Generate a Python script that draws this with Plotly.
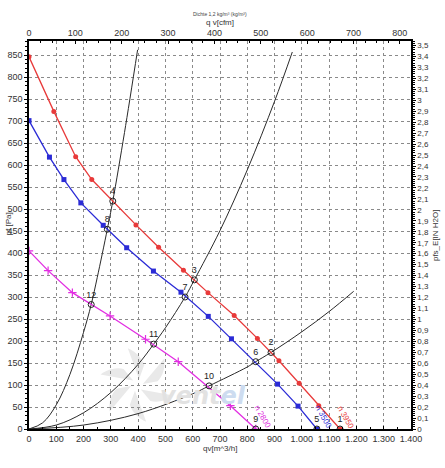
import math
import plotly.graph_objects as go

# ---------------- data ----------------
red_q = [0, 91, 171, 230, 392, 475, 566, 656, 752, 837, 916, 990, 1062, 1140]
red_p = [846, 722, 619, 567, 464, 413, 361, 310, 258, 206, 155, 104, 53, 0]

blue_q = [0, 75, 128, 190, 272, 358, 456, 557, 657, 742, 911, 986, 1055]
blue_p = [701, 618, 567, 514, 463, 412, 359, 311, 256, 205, 102, 52, 0]

mag_q = [0, 70, 159, 297, 427, 547, 738, 831]
mag_p = [405, 360, 310, 257, 204, 153, 53, 0]

sys1_q = [0, 50, 100, 150, 200, 228, 250, 287, 307, 350, 398]
sys1_p = [0, 14, 55, 124, 220, 283, 344, 454, 518, 674, 862]

sys2_q = [0, 100, 200, 300, 400, 457, 500, 572, 606, 700, 800, 900, 965]
sys2_p = [0, 9, 37, 83, 147, 193, 230, 300, 339, 451, 589, 745, 857]

sys3_q = [0, 200, 400, 600, 660, 800, 831, 887, 1000, 1100, 1190]
sys3_p = [0, 9, 35, 80, 98, 141, 153, 174, 221, 267, 313]

op_labels = ["1", "2", "3", "4", "5", "6", "7", "8", "9", "10", "11", "12"]
op_q = [1140, 887, 606, 307, 1055, 831, 572, 287, 831, 660, 457, 228]
op_p = [0, 174, 339, 518, 0, 153, 300, 454, 0, 98, 193, 283]

speed_labels = ["n 3950", "n 3500", "n 2800"]
speed_q = [1160, 1078, 855]
speed_p = [26, 28, 28]
speed_colors = ["#e83a3a", "#3030d8", "#e030e0"]

P_MAX = 882          # Pa, top of plot
PA_PER_INH2O = 249.089
M3H_PER_CFM = 1.69901
Q_MAX = 1400

RED = "#e83a3a"
BLUE = "#2b2bd6"
MAG = "#e22ee2"
SYS = "#2a2a2a"
FONT = "Liberation Sans"

# plot-area geometry (pixels) for the decorative watermark
L, R, T, B = 29, 411, 41, 429


def px_to_paper(px, py):
    return (px - L) / (R - L), (B - py) / (B - T)


fig = go.Figure()

for q, p in [(sys1_q, sys1_p), (sys2_q, sys2_p), (sys3_q, sys3_p)]:
    fig.add_trace(go.Scatter(x=q, y=p, mode="lines", line=dict(color=SYS, width=1, shape="spline"),
                             hoverinfo="skip", showlegend=False))

fig.add_trace(go.Scatter(x=red_q, y=red_p, mode="lines+markers",
                         line=dict(color=RED, width=1.3),
                         marker=dict(symbol="circle", size=5, color=RED), showlegend=False))
fig.add_trace(go.Scatter(x=blue_q, y=blue_p, mode="lines+markers",
                         line=dict(color=BLUE, width=1.3),
                         marker=dict(symbol="square", size=5, color=BLUE), showlegend=False))
fig.add_trace(go.Scatter(x=mag_q, y=mag_p, mode="lines+markers",
                         line=dict(color=MAG, width=1.3),
                         marker=dict(symbol="cross-thin", size=6, line=dict(color=MAG, width=1.2)),
                         showlegend=False))

fig.add_trace(go.Scatter(x=op_q, y=op_p, mode="markers+text", text=op_labels,
                         textposition="top center",
                         textfont=dict(family=FONT, size=9, color="#222"),
                         marker=dict(symbol="circle-open", size=6, color="#222", line=dict(width=1)),
                         showlegend=False))

# dummy trace on secondary axes so they render
fig.add_trace(go.Scatter(x=[0], y=[0], xaxis="x2", yaxis="y2", mode="markers",
                         marker=dict(opacity=0), hoverinfo="skip", showlegend=False))

# watermark fan icon (decoration, paper coordinates)
shapes = []
cx, cy, rad = 137, 385, 38
for k in range(6):
    a0 = math.radians(k * 60 + 10)
    x0p, y0p = px_to_paper(cx + 6 * math.cos(a0), cy - 6 * math.sin(a0))
    path = "M %.4f,%.4f" % (x0p, y0p)
    for j in range(9):
        a = a0 + math.radians(34) * j / 8
        rr = rad * (0.55 + 0.45 * j / 8)
        xp, yp = px_to_paper(cx + rr * math.cos(a), cy - rr * math.sin(a))
        path += " L %.4f,%.4f" % (xp, yp)
    path += " Z"
    shapes.append(dict(type="path", xref="paper", yref="paper", path=path,
                       fillcolor="#e9e9e9", line=dict(width=0), layer="below"))

annotations = []
for t, q, p, c in zip(speed_labels, speed_q, speed_p, speed_colors):
    annotations.append(dict(x=q, y=p, xref="x", yref="y", text=t, showarrow=False, textangle=60,
                            font=dict(family=FONT, size=8, color=c)))

# watermark text
wx, wy = px_to_paper(203, 381)
annotations.append(dict(x=wx, y=wy, xref="paper", yref="paper", showarrow=False,
                        xanchor="center", yanchor="top", borderpad=0,
                        text="<b><i>vent<span style='color:#cddcf0'>el</span></i></b>",
                        font=dict(family="DejaVu Sans", size=24, color="#e2e2e2")))

annotations += [
    dict(x=0.5, y=-0.05, xref="paper", yref="paper", text="qv[m^3/h]", showarrow=False,
         font=dict(family=FONT, size=8, color="#333"), yanchor="middle"),
    dict(x=0.5, y=1.047, xref="paper", yref="paper", text="q v[cfm]", showarrow=False,
         font=dict(family=FONT, size=8, color="#333"), yanchor="middle"),
    dict(x=0.5, y=1.07, xref="paper", yref="paper", text="Dichte 1,2 kg/m³ (kg/m³)", showarrow=False,
         font=dict(family=FONT, size=5, color="#444"), yanchor="middle"),
    dict(x=-0.055, y=0.53, xref="paper", yref="paper", text="pf [Pa]", showarrow=False, textangle=-90,
         font=dict(family=FONT, size=8, color="#333"), xanchor="center", yanchor="middle"),
    dict(x=1.063, y=0.5, xref="paper", yref="paper", text="pfs_E[IN H2O]", showarrow=False, textangle=-90,
         font=dict(family=FONT, size=8, color="#333"), xanchor="center", yanchor="middle"),
]

tickfont = dict(family=FONT, size=9, color="#333")

fig.update_layout(
    width=445, height=468,
    margin=dict(l=L, r=445 - R, t=T, b=468 - B, autoexpand=False),
    plot_bgcolor="white", paper_bgcolor="white",
    separators=",.",
    annotations=annotations,
    shapes=shapes,
    xaxis=dict(range=[0, Q_MAX], dtick=100, tick0=0, tickformat=",d", showgrid=True, automargin=False,
               gridcolor="#8a8a8a", griddash="3px,3px", gridwidth=1,
               showline=True, linecolor="black", linewidth=1.5, ticks="inside", ticklen=3,
               tickcolor="black", tickfont=tickfont, zeroline=False,
               minor=dict(ticks="inside", ticklen=2, dtick=50, tickcolor="black", showgrid=False)),
    yaxis=dict(range=[0, P_MAX], dtick=50, tick0=0, showgrid=True, automargin=False,
               gridcolor="#8a8a8a", griddash="3px,3px", gridwidth=1,
               showline=True, linecolor="black", linewidth=1.5, ticks="outside", ticklen=3,
               tickcolor="black", tickfont=tickfont, zeroline=False,
               minor=dict(ticks="outside", ticklen=2, dtick=10, tickcolor="black", showgrid=False)),
    xaxis2=dict(range=[0, Q_MAX / M3H_PER_CFM], dtick=100, tick0=0, overlaying="x", side="top",
                automargin=False,
                showgrid=False, showline=True, linecolor="black", linewidth=1.5,
                ticks="inside", ticklen=3, tickcolor="black", tickfont=tickfont, zeroline=False,
                minor=dict(ticks="inside", ticklen=2, dtick=25, tickcolor="black", showgrid=False)),
    yaxis2=dict(range=[0, P_MAX / PA_PER_INH2O], dtick=0.1, tick0=0, overlaying="y", side="right",
                automargin=False,
                showgrid=False, showline=True, linecolor="black", linewidth=1.5,
                ticks="outside", ticklen=3, tickcolor="black", tickfont=dict(family=FONT, size=8, color="#333"),
                zeroline=False,
                minor=dict(ticks="outside", ticklen=2, dtick=0.02, tickcolor="black", showgrid=False)),
)

fig.write_html("out.html")
